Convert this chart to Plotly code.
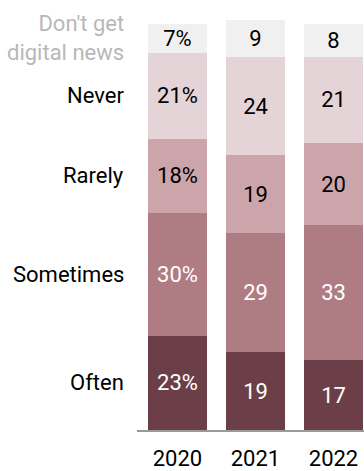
import plotly.graph_objects as go

years = ["2020", "2021", "2022"]
categories = ["Often", "Sometimes", "Rarely", "Never", "Don't get<br>digital news"]
often = [23, 19, 17]
sometimes = [30, 29, 33]
rarely = [18, 19, 20]
never = [21, 24, 21]
dont_get = [7, 9, 8]

series = [often, sometimes, rarely, never, dont_get]
colors = ["#6c3f48", "#b07c84", "#cca5ab", "#e4d3d7", "#f0f0f0"]
text_colors = ["white", "white", "black", "black", "black"]
label_colors = ["black", "black", "black", "black", "#b8b8b8"]

FONT = "Roboto, Liberation Sans, Arial, sans-serif"

fig = go.Figure()
for name, vals, col, tc in zip(categories, series, colors, text_colors):
    labels = [f"{v}%" if i == 0 else f"{v}" for i, v in enumerate(vals)]
    fig.add_trace(go.Bar(
        x=years, y=vals, name=name,
        marker=dict(color=col, line=dict(width=0)),
        text=labels, textposition="inside", insidetextanchor="middle",
        textfont=dict(color=tc, size=22, family=FONT),
        textangle=0, constraintext="none",
        hoverinfo="skip",
    ))

# category labels aligned with the 2020 bar segments
cum = 0
for name, vals, lc in zip(categories, series, label_colors):
    center = cum + vals[0] / 2
    cum += vals[0]
    fig.add_annotation(
        xref="paper", yref="y", x=-0.048, y=center,
        text=name, showarrow=False, xanchor="right", yanchor="middle",
        align="right",
        font=dict(size=22, color=lc, family=FONT),
    )

fig.update_layout(
    barmode="stack", bargap=0.244,
    width=364, height=471,
    margin=dict(l=137, r=0, t=20, b=41, autoexpand=False),
    paper_bgcolor="white", plot_bgcolor="white",
    showlegend=False,
    font=dict(family=FONT, size=22, color="black"),
    xaxis=dict(range=[-0.519, 2.391], showline=True, linecolor="#999999",
               linewidth=2, ticks="outside", ticklen=8, tickcolor="rgba(0,0,0,0)",
               tickfont=dict(size=22, color="black", family=FONT),
               automargin=False,
               showgrid=False, zeroline=False, fixedrange=True),
    yaxis=dict(range=[0, 100], visible=False, showgrid=False, zeroline=False,
               automargin=False),
)

fig.write_html("out.html")
